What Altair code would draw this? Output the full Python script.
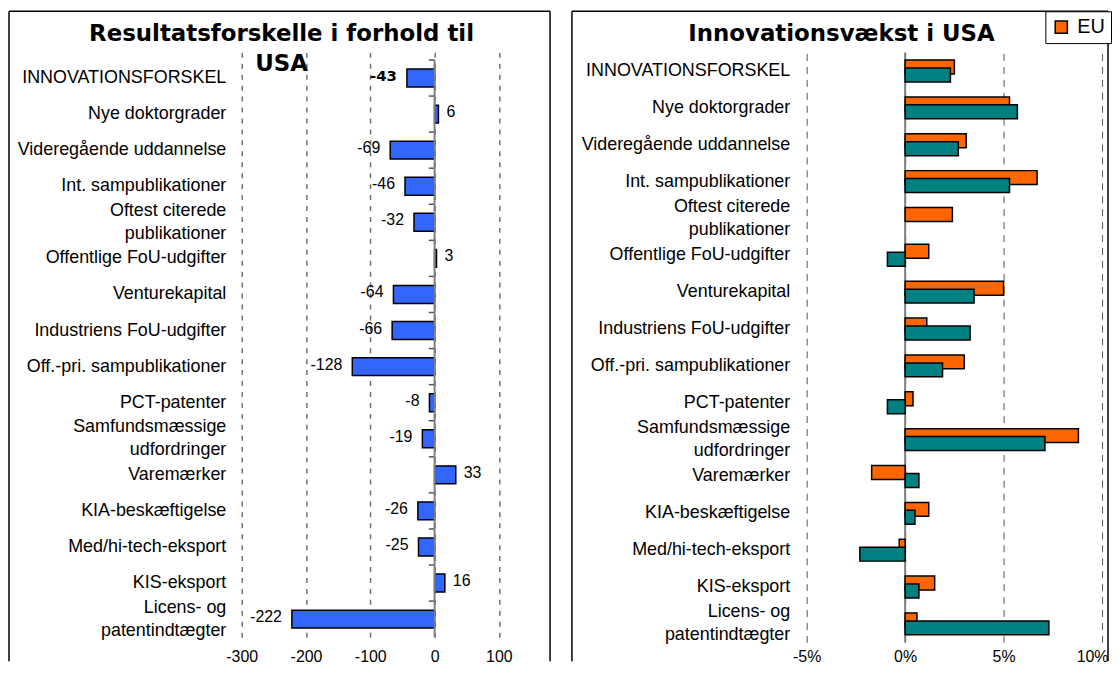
import altair as alt
import pandas as pd

NB = "\u00a0"
categories = [
    "INNOVATIONSFORSKEL",
    "Nye doktorgrader",
    "Videregående uddannelse",
    "Int. sampublikationer",
    "Oftest citerede|publikationer" + NB * 3,
    "Offentlige FoU-udgifter",
    "Venturekapital",
    "Industriens FoU-udgifter",
    "Off.-pri. sampublikationer",
    "PCT-patenter",
    "Samfundsmæssige|udfordringer" + NB * 5,
    "Varemærker",
    "KIA-beskæftigelse",
    "Med/hi-tech-eksport",
    "KIS-eksport",
    "Licens- og" + NB * 3 + "|patentindtægter",
]

# Left panel: Resultatsforskelle i forhold til USA
result_diff = [-43, 6, -69, -46, -32, 3, -64, -66, -128, -8, -19, 33, -26, -25, 16, -222]

# Right panel: Innovationsvækst (%), EU and USA
eu_growth = [2.5, 5.3, 3.1, 6.7, 2.4, 1.2, 5.0, 1.1, 3.0, 0.4, 8.8, -1.7, 1.2, -0.3, 1.5, 0.6]
usa_growth = [2.3, 5.7, 2.7, 5.3, None, -0.9, 3.5, 3.3, 1.9, -0.9, 7.1, 0.7, 0.5, -2.3, 0.7, 7.3]

series_names = ["EU", "USA"]
series_colors = ["#FF6600", "#008080"]

LABEL_FONT = "Liberation Sans"
TITLE_FONT = "DejaVu Sans"
FRAME_W = 1.5

one = pd.DataFrame({"k": [0]})

two_line_offset = {"condition": {"test": "indexof(datum.value, '|') >= 0", "value": -11.5}, "value": 0}


def cat_axis(pad):
    return alt.Axis(labelExpr="split(datum.label, '|')", labelFont=LABEL_FONT, labelFontSize=18,
                    labelColor="black", labelPadding=pad, ticks=False, domain=False, labelLimit=400,
                    labelLineHeight=23, labelOffset=two_line_offset)


def frame(x1, x2, y1, y2):
    left_edge = alt.Chart(one).mark_rule(color="black", strokeWidth=FRAME_W).encode(
        x=alt.value(x1), y=alt.value(y1), y2=alt.value(y2))
    right_edge = alt.Chart(one).mark_rule(color="black", strokeWidth=FRAME_W).encode(
        x=alt.value(x2), y=alt.value(y1), y2=alt.value(y2))
    top_edge = alt.Chart(one).mark_rule(color="black", strokeWidth=FRAME_W).encode(
        x=alt.value(x1), x2=alt.value(x2), y=alt.value(y1))
    return [left_edge, right_edge, top_edge]


# ---------------- left panel ----------------
left_df = pd.DataFrame({"cat": categories, "val": result_diff,
                        "first": [i == 0 for i in range(len(categories))]})

y_left = alt.Y("cat:N", sort=categories, title=None,
               scale=alt.Scale(paddingInner=0, paddingOuter=0.103, align=1),
               axis=cat_axis(16))
x_left = alt.X(
    "val:Q", title=None,
    scale=alt.Scale(domain=[-300, 175], nice=False, zero=False),
    axis=alt.Axis(values=list(range(-300, 200, 50)),
                  labelExpr="datum.value % 100 == 0 ? '' + datum.value : ''",
                  grid=True, gridDash=[5, 6], gridColor="#707070", gridWidth=1.5,
                  domain=False, ticks=False, labelPadding=11, labelFontSize=16, labelFlush=False,
                  labelFont=LABEL_FONT, labelColor="black"),
)

lbase = alt.Chart(left_df).transform_calculate(lab="'' + datum.val")
l_bars = lbase.mark_bar(height=18, color="#3366FF", stroke="black", strokeWidth=1.5).encode(
    y=y_left, x=x_left, x2=alt.datum(0))
l_zero = alt.Chart(one).mark_rule(color="#808080", strokeWidth=2).encode(
    x=alt.datum(0), y=alt.value(7.5), y2=alt.value(587.8))
l_ticks = lbase.mark_rule(color="#555555", strokeWidth=1.5).encode(
    y=alt.Y("cat:N", sort=categories, bandPosition=0), x=alt.datum(-9), x2=alt.datum(0))
l_txt_neg = lbase.transform_filter("datum.val < 0 && !datum.first").mark_text(
    align="right", baseline="middle", dx=-10, dy=-2, font=LABEL_FONT, fontSize=16, color="black").encode(
    y=alt.Y("cat:N", sort=categories), x="val:Q", text="lab:N")
l_txt_pos = lbase.transform_filter("datum.val >= 0").mark_text(
    align="left", baseline="middle", dx=8, dy=-2, font=LABEL_FONT, fontSize=16, color="black").encode(
    y=alt.Y("cat:N", sort=categories), x="val:Q", text="lab:N")
l_txt_bold = lbase.transform_filter("datum.first").mark_text(
    align="right", baseline="middle", dx=-10, dy=-2, font=TITLE_FONT, fontSize=15, fontWeight="bold",
    color="black").encode(y=alt.Y("cat:N", sort=categories), x="val:Q", text="lab:N")
l_title = alt.Chart(one).mark_text(
    align="center", baseline="alphabetic", font=TITLE_FONT, fontSize=23, fontWeight="bold",
    color="black", lineHeight=30).encode(
    x=alt.value(40), y=alt.value(-11.5),
    text=alt.value(["Resultatsforskelle i forhold til", "USA"]))

left = alt.layer(l_bars, l_ticks, l_zero, l_txt_neg, l_txt_pos, l_txt_bold, l_title,
                 *frame(-234, 310, -41.5, 612)).properties(width=307, height=587.8)

# ---------------- right panel ----------------
rows = []
for c, e, u in zip(categories, eu_growth, usa_growth):
    rows.append({"cat": c, "series": "EU", "val": e})
    if u is not None:
        rows.append({"cat": c, "series": "USA", "val": u})
right_df = pd.DataFrame(rows)

y_right = alt.Y("cat:N", sort=categories, title=None,
                scale=alt.Scale(paddingInner=0, paddingOuter=0), axis=cat_axis(17))
x_right = alt.X(
    "val:Q", title=None,
    scale=alt.Scale(domain=[-5, 10], nice=False, zero=False),
    axis=alt.Axis(values=[-5, 0, 5, 10], labelExpr="datum.value + '%'",
                  grid=True, gridDash=[7, 6], gridColor="#555555", gridWidth=1,
                  domain=False, ticks=False, labelPadding=6, labelFontSize=16, labelFlush=False,
                  labelAlign={"condition": {"test": "datum.value == 10", "value": "right"}, "value": "center"},
                  labelOffset={"condition": {"test": "datum.value == 10", "value": 6}, "value": 0},
                  labelFont=LABEL_FONT, labelColor="black"),
)
color_enc = alt.Color(
    "series:N", title=None,
    scale=alt.Scale(domain=series_names, range=series_colors),
    legend=alt.Legend(values=["EU"], orient="none", legendX=240, legendY=-41.5,
                      symbolType="square", symbolSize=150, symbolStrokeColor="black",
                      symbolStrokeWidth=1.5, symbolOpacity=1, labelFont=LABEL_FONT, labelFontSize=20,
                      labelColor="black", strokeColor="black", fillColor="white", padding=6,
                      labelOffset=6),
)

rbase = alt.Chart(right_df)
r_eu = rbase.transform_filter("datum.series == 'EU'").mark_bar(
    height=14, yOffset=-4, stroke="black", strokeWidth=1.5, opacity=1).encode(
    y=y_right, x=x_right, x2=alt.datum(0), color=color_enc)
r_us = rbase.transform_filter("datum.series == 'USA'").mark_bar(
    height=14, yOffset=4, stroke="black", strokeWidth=1.5, opacity=1).encode(
    y=alt.Y("cat:N", sort=categories), x="val:Q", x2=alt.datum(0), color=color_enc)
r_zero = alt.Chart(one).mark_rule(color="#808080", strokeWidth=2).encode(x=alt.datum(0))
r_title = alt.Chart(one).mark_text(
    align="center", baseline="alphabetic", font=TITLE_FONT, fontSize=23, fontWeight="bold",
    color="black").encode(x=alt.value(35), y=alt.value(-11.5), text=alt.value("Innovationsvækst i USA"))

right = alt.layer(r_zero, r_eu, r_us, r_title, *frame(-236, 303, -41.5, 612)).properties(
    width=297, height=593)

chart = alt.hconcat(left, right, spacing=20).resolve_scale(color="independent").properties(
    padding=0, background="white"
).configure_view(strokeOpacity=0)

chart.save("out.html", embed_options={"renderer": "svg", "actions": False})
